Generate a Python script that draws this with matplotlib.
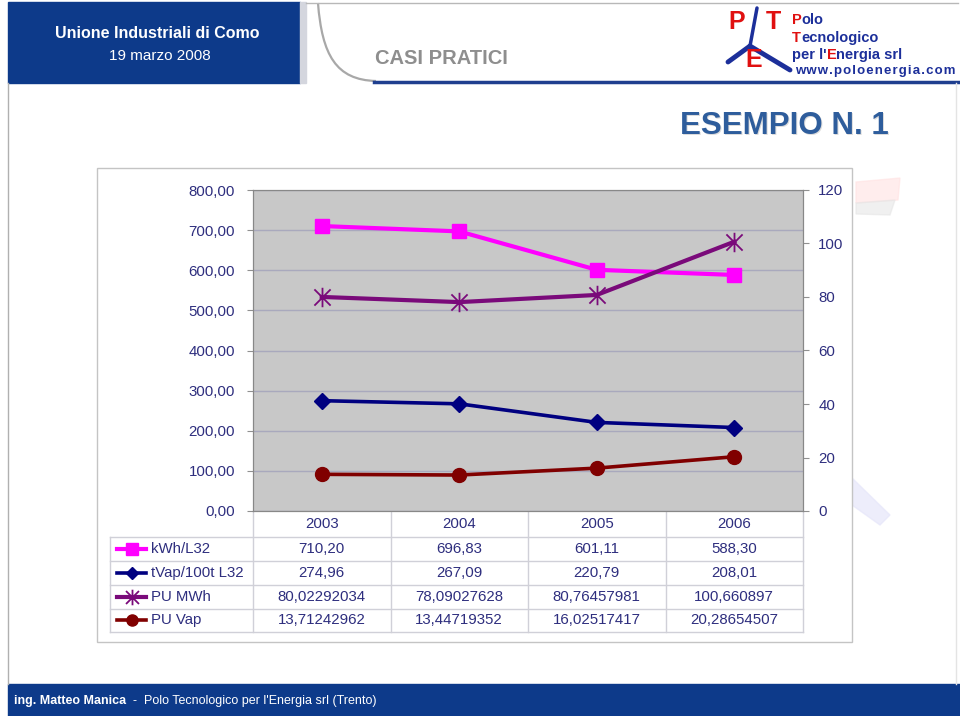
import matplotlib
matplotlib.use("Agg")
import matplotlib.pyplot as plt
import matplotlib.transforms as mtransforms
from matplotlib.path import Path
from matplotlib.patches import Rectangle, Polygon, PathPatch

# data
years = ["2003", "2004", "2005", "2006"]
kwh_l32 = [710.20, 696.83, 601.11, 588.30]
tvap_l32 = [274.96, 267.09, 220.79, 208.01]
pu_mwh = [80.02292034, 78.09027628, 80.76457981, 100.660897]
pu_vap = [13.71242962, 13.44719352, 16.02517417, 20.28654507]
series_names = ["kWh/L32", "tVap/100t L32", "PU MWh", "PU Vap"]
left_ticks = [0, 100, 200, 300, 400, 500, 600, 700, 800]
right_ticks = [0, 20, 40, 60, 80, 100, 120]

plt.rcParams["font.family"] = ["Liberation Sans", "DejaVu Sans"]

BLUE = "#0d3a8a"
TXT = "#2e2e7e"
LOGO_BLUE = "#1c2f9a"
LOGO_RED = "#e01010"

# excel-like star marker: X plus a vertical bar
star = Path([(-1, -1), (1, 1), (-1, 1), (1, -1), (0, -1.2), (0, 1.2)],
            [Path.MOVETO, Path.LINETO, Path.MOVETO, Path.LINETO, Path.MOVETO, Path.LINETO])

styles = [
    dict(color="#ff00ff", lw=3, marker="s", ms=10),
    dict(color="#000080", lw=2.6, marker="D", ms=8),
    dict(color="#7a0a7a", lw=3, marker=star, ms=14, mew=1.3, mfc="none"),
    dict(color="#800000", lw=2.6, marker="o", ms=10),
]

fig = plt.figure(figsize=(9.6, 7.16), dpi=100)
fig.patch.set_facecolor("white")

# background axes in pixel coordinates for the slide decoration + data table
bg = fig.add_axes([0, 0, 1, 1])
bg.set_xlim(0, 960)
bg.set_ylim(716, 0)
bg.axis("off")
renderer = fig.canvas.get_renderer()


def colored_words(x0, y, parts, **kw):
    """draw consecutive pieces of text with their own colours/weights on one line"""
    for txt, col, wt in parts:
        t = bg.text(x0, y, txt, color=col, fontweight=wt, va="center", ha="left", **kw)
        x0 += t.get_window_extent(renderer=renderer).width  # pixel units == data units in bg


# ---- header ----
bg.add_patch(Rectangle((8, 2), 292, 81, color=BLUE))
bg.add_patch(Rectangle((300, 2), 6, 81, color="#d4d6de"))
bg.plot([306, 958], [2.5, 2.5], color="#b8b8b8", lw=1)
curve = Path([(318, 3), (322, 55), (336, 80), (376, 81)],
             [Path.MOVETO, Path.CURVE4, Path.CURVE4, Path.CURVE4])
bg.add_patch(PathPatch(curve, fill=False, ec="#a8a8a8", lw=1.6))
bg.plot([374, 958], [82, 82], color="#1f3f8f", lw=2.5)
bg.text(157, 33, "Unione Industriali di Como", color="white", fontsize=11.5,
        fontweight="bold", ha="center", va="center")
bg.text(160, 56, "19 marzo 2008", color="white", fontsize=11, ha="center", va="center")
bg.text(375, 58, "CASI PRATICI", color="#8e8e8e", fontsize=14.5, fontweight="bold",
        ha="left", va="center")

# logo
bg.plot([757, 750], [8, 46], color=LOGO_BLUE, lw=2.5, solid_capstyle="round")
bg.plot([750, 728], [46, 62], color=LOGO_BLUE, lw=3.5, solid_capstyle="round")
bg.plot([750, 790], [46, 70], color=LOGO_BLUE, lw=3.5, solid_capstyle="round")
bg.text(728, 22, "P", color=LOGO_RED, fontsize=18, fontweight="bold", va="center")
bg.text(766, 22, "T", color=LOGO_RED, fontsize=18, fontweight="bold", va="center")
bg.text(745, 60, "E", color=LOGO_RED, fontsize=18, fontweight="bold", va="center")
colored_words(792, 20, [("P", LOGO_RED, "bold"), ("olo", LOGO_BLUE, "bold")], fontsize=10.5)
colored_words(792, 38, [("T", LOGO_RED, "bold"), ("ecnologico", LOGO_BLUE, "bold")], fontsize=10.5)
colored_words(792, 55, [("per l'", LOGO_BLUE, "bold"), ("E", LOGO_RED, "bold"),
                        ("nergia srl", LOGO_BLUE, "bold")], fontsize=10.5)
bg.text(795, 71, "w w w . p o l o e n e r g i a . c o m".replace(" ", "\u200a"),
        color=LOGO_BLUE, fontsize=9.5, fontweight="bold", va="center")

# slide borders, faint watermark
bg.plot([8, 8], [83, 684], color="#b0b0b0", lw=1)
bg.plot([956, 956], [83, 684], color="#e4e4e4", lw=1)
bg.add_patch(Polygon([(856, 182), (900, 178), (898, 200), (856, 203)], color="#ffe2e2", alpha=0.6))
bg.add_patch(Polygon([(856, 203), (895, 200), (890, 215), (856, 214)], color="#e6e6e6", alpha=0.6))
bg.add_patch(Polygon([(852, 478), (890, 515), (880, 525), (852, 505)], color="#e6e6fa", alpha=0.7))

bg.text(890, 127, "ESEMPIO N. 1", color="#dcdcdc", fontsize=22.5, fontweight="bold",
        ha="right", va="center")
bg.text(889, 126, "ESEMPIO N. 1", color="#2e5d9c", fontsize=22.5, fontweight="bold",
        ha="right", va="center")

# ---- footer ----
bg.add_patch(Rectangle((8, 684), 952, 32, color=BLUE))
colored_words(14, 701, [("ing. Matteo Manica", "white", "bold"),
                        ("  -  Polo Tecnologico per l'Energia srl (Trento)", "white", "normal")],
              fontsize=9)

# chart frame
bg.add_patch(Rectangle((97, 168), 755, 474, fc="white", ec="#c4c4c4", lw=1))

# ---- chart ----
ax = fig.add_axes([253 / 960, (716 - 511) / 716, 550 / 960, 321 / 716])
ax.set_facecolor("#c8c8c8")
ax2 = ax.twinx()
x = list(range(len(years)))
ax.plot(x, kwh_l32, **styles[0], zorder=3)
ax.plot(x, tvap_l32, **styles[1], zorder=3)
ax2.plot(x, pu_mwh, **styles[2], zorder=3)
ax2.plot(x, pu_vap, **styles[3], zorder=3)

ax.set_xlim(-0.5, len(years) - 0.5)
ax.set_ylim(0, 800)
ax2.set_ylim(0, 120)
ax.set_xticks([])
ax.set_yticks(left_ticks)
ax.set_yticklabels([f"{v:.2f}".replace(".", ",") for v in left_ticks])
ax2.set_yticks(right_ticks)
ax2.set_yticklabels([str(v) for v in right_ticks])
ax.yaxis.grid(True, color="#a9a9bd", lw=1)
ax.set_axisbelow(True)
for a in (ax, ax2):
    a.tick_params(axis="y", direction="out", length=4, color="#909090",
                  labelcolor=TXT, labelsize=10.8)
    for s in a.spines.values():
        s.set_color("#888888")
ax.tick_params(axis="y", pad=9)
ax2.tick_params(axis="y", pad=7)

# ---- data table under the plot ----
tr = mtransforms.blended_transform_factory(ax.transData, bg.transData)
row_y = [549, 573, 597, 620]
for xb in [-0.5, 0.5, 1.5, 2.5, 3.5]:
    bg.plot([xb, xb], [511, 632], color="#d0d0d8", lw=1, transform=tr)
bg.plot([110, 110], [537, 632], color="#d0d0d8", lw=1)
for yb in [537, 561, 585, 609, 632]:
    bg.plot([110, 803], [yb, yb], color="#d0d0d8", lw=1)
for xi, yr in zip(x, years):
    bg.text(xi, 524, yr, transform=tr, ha="center", va="center", color=TXT, fontsize=10.8)

rows = [
    [f"{v:.2f}".replace(".", ",") for v in kwh_l32],
    [f"{v:.2f}".replace(".", ",") for v in tvap_l32],
    [f"{v:.10g}".replace(".", ",") for v in pu_mwh],
    [f"{v:.10g}".replace(".", ",") for v in pu_vap],
]
for ry, name, st, vals in zip(row_y, series_names, styles, rows):
    line_kw = {k: v for k, v in st.items() if k not in ("marker", "ms", "mew", "mfc")}
    bg.plot([117, 146], [ry, ry], **line_kw)
    mk = dict(st)
    mk["ms"] = st["ms"] * 0.8
    mk.pop("lw")
    bg.plot([131.5], [ry], linestyle="none", **mk)
    bg.text(151, ry, name, color=TXT, fontsize=10.8, va="center")
    for xi, s in zip(x, vals):
        bg.text(xi, ry, s, transform=tr, ha="center", va="center", color=TXT, fontsize=10.8)

fig.savefig("out.png", dpi=100)
